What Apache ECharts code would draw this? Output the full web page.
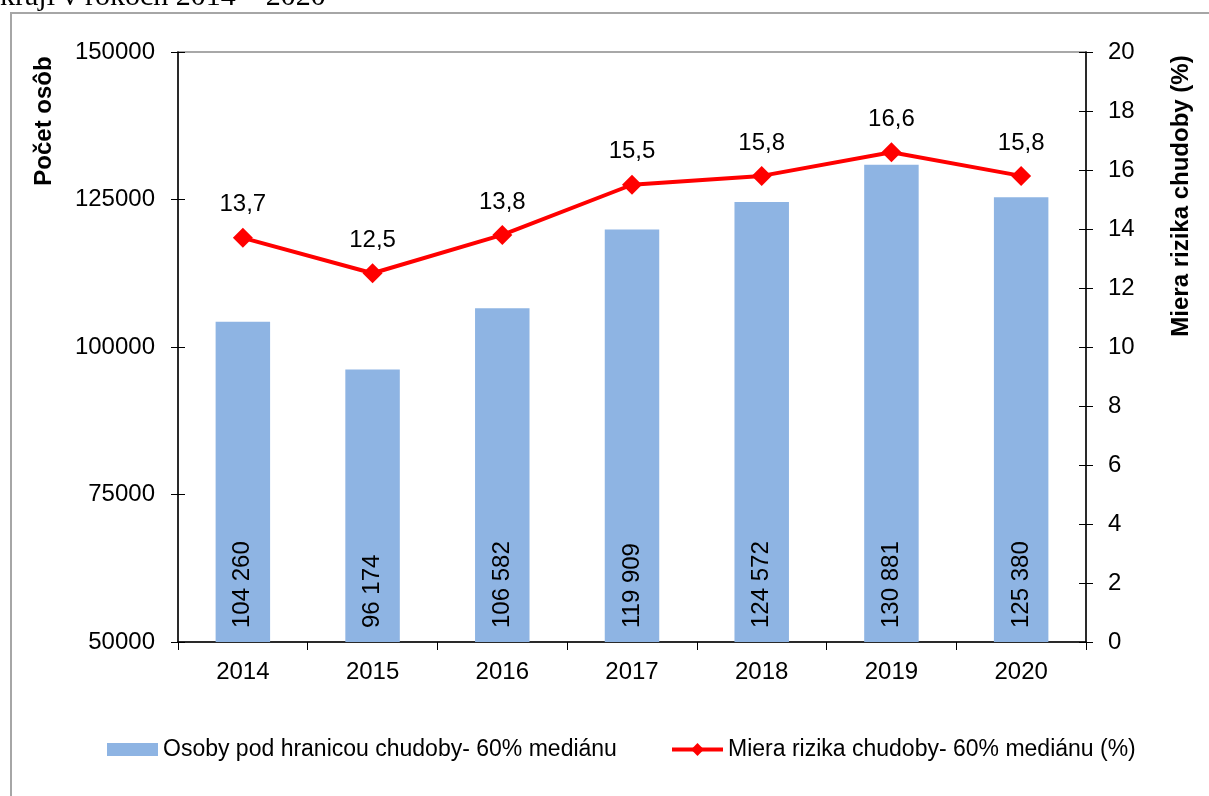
<!DOCTYPE HTML>
<html>
<head>
    <meta charset="utf-8">
    <title>Osoby pod hranicou chudoby</title>
    <script src="https://cdn.jsdelivr.net/npm/echarts@6.0.0/dist/echarts.min.js"></script>
    <style>
        html, body { margin: 0; padding: 0; background: #fff; }
        #main { width: 1209px; height: 796px; }
    </style>
</head>
<body>
<div id="main"></div>
<script type="text/javascript">

    var years = ['2014', '2015', '2016', '2017', '2018', '2019', '2020'];
    var persons = [104260, 96174, 106582, 119909, 124572, 130881, 125380];
    var riskRate = [13.7, 12.5, 13.8, 15.5, 15.8, 16.6, 15.8];

    var leftTicks = [50000, 150000, 25000];   // min, max, interval
    var rightTicks = [0, 20, 2];

    var font = 'Arial, "Liberation Sans", sans-serif';

    function spaced(v) {
        return String(v).replace(/\B(?=(\d{3})+(?!\d))/g, ' ');
    }
    function comma(v) {
        return String(v.toFixed(1)).replace('.', ',');
    }

    var chart = echarts.init(document.getElementById('main'));

    var option = {
        animation: false,
        backgroundColor: '#fff',
        textStyle: { fontFamily: font },
        grid: {
            left: 178, right: 123, top: 52, bottom: 154,
            show: true, borderColor: '#8c8c8c', borderWidth: 1.5
        },
        legend: [
            {
                left: 107, top: 738, padding: 0,
                itemWidth: 51, itemHeight: 13, itemGap: 4,
                textStyle: { fontSize: 23, color: '#000', fontFamily: font },
                data: [{ name: 'Osoby pod hranicou chudoby- 60% mediánu', icon: 'rect' }]
            },
            {
                left: 670, top: 738, padding: 0,
                itemWidth: 51, itemHeight: 16,
                lineStyle: { width: 4 },
                textStyle: { fontSize: 23, color: '#000', fontFamily: font },
                data: ['Miera rizika chudoby- 60% mediánu (%)']
            }
        ],
        xAxis: {
            type: 'category',
            data: years,
            axisLine: { lineStyle: { color: '#000', width: 1.5 } },
            axisTick: { show: true, length: 8, lineStyle: { color: '#000' } },
            axisLabel: { fontSize: 24, color: '#000', margin: 18 }
        },
        yAxis: [
            {
                type: 'value', position: 'left',
                min: leftTicks[0], max: leftTicks[1], interval: leftTicks[2],
                axisLine: { show: true, lineStyle: { color: '#000', width: 1.5 } },
                axisTick: { show: true, length: 7, lineStyle: { color: '#000' } },
                axisLabel: { fontSize: 24, color: '#000', margin: 23, formatter: function (v) { return String(v); } },
                splitLine: { show: false }
            },
            {
                type: 'value', position: 'right',
                min: rightTicks[0], max: rightTicks[1], interval: rightTicks[2],
                axisLine: { show: true, lineStyle: { color: '#000', width: 1.5 } },
                axisTick: { show: true, length: 7, lineStyle: { color: '#000' } },
                axisLabel: { fontSize: 24, color: '#000', margin: 22 },
                splitLine: { show: false }
            },
            {
                type: 'value', position: 'left',
                min: leftTicks[0], max: leftTicks[1], interval: leftTicks[2],
                axisLine: { show: false },
                axisTick: { show: true, inside: true, length: 7, lineStyle: { color: '#000' } },
                axisLabel: { show: false },
                splitLine: { show: false }
            },
            {
                type: 'value', position: 'right',
                min: rightTicks[0], max: rightTicks[1], interval: rightTicks[2],
                axisLine: { show: false },
                axisTick: { show: true, inside: true, length: 7, lineStyle: { color: '#000' } },
                axisLabel: { show: false },
                splitLine: { show: false }
            }
        ],
        series: [
            {
                name: 'Osoby pod hranicou chudoby- 60% mediánu',
                type: 'bar',
                yAxisIndex: 0,
                barWidth: '42%',
                data: persons,
                itemStyle: { color: '#8EB4E3' },
                label: {
                    show: true,
                    position: 'insideBottom',
                    rotate: 90,
                    align: 'left',
                    verticalAlign: 'middle',
                    distance: 14,
                    fontSize: 24,
                    color: '#000',
                    formatter: function (p) { return spaced(p.value); }
                }
            },
            {
                name: 'Miera rizika chudoby- 60% mediánu (%)',
                type: 'line',
                yAxisIndex: 1,
                data: riskRate,
                symbol: 'diamond',
                symbolSize: 20,
                lineStyle: { color: '#FF0000', width: 4 },
                itemStyle: { color: '#FF0000' },
                label: {
                    show: true,
                    position: 'top',
                    distance: 11,
                    fontSize: 24,
                    color: '#000',
                    formatter: function (p) { return comma(p.value); }
                }
            }
        ],
        graphic: [
            {
                type: 'rect',
                shape: { x: 11, y: 13, width: 1300, height: 900 },
                style: { fill: 'none', stroke: '#a6a6a6', lineWidth: 2 },
                silent: true
            },
            {
                type: 'text',
                x: 0, y: 12,
                style: {
                    text: 'kraji v rokoch 2014 – 2020',
                    font: '30px "Liberation Serif", "Times New Roman", serif',
                    fill: '#000',
                    textVerticalAlign: 'bottom'
                }
            },
            {
                type: 'text',
                x: 44, y: 121, rotation: Math.PI / 2,
                style: {
                    text: 'Počet osôb',
                    font: 'bold 24px Arial, "Liberation Sans", sans-serif',
                    fill: '#000',
                    align: 'center',
                    verticalAlign: 'middle'
                }
            },
            {
                type: 'text',
                x: 1181, y: 196, rotation: Math.PI / 2,
                style: {
                    text: 'Miera rizika chudoby (%)',
                    font: 'bold 24px Arial, "Liberation Sans", sans-serif',
                    fill: '#000',
                    align: 'center',
                    verticalAlign: 'middle'
                }
            }
        ]
    };

    chart.setOption(option);

</script>
</body>
</html>
